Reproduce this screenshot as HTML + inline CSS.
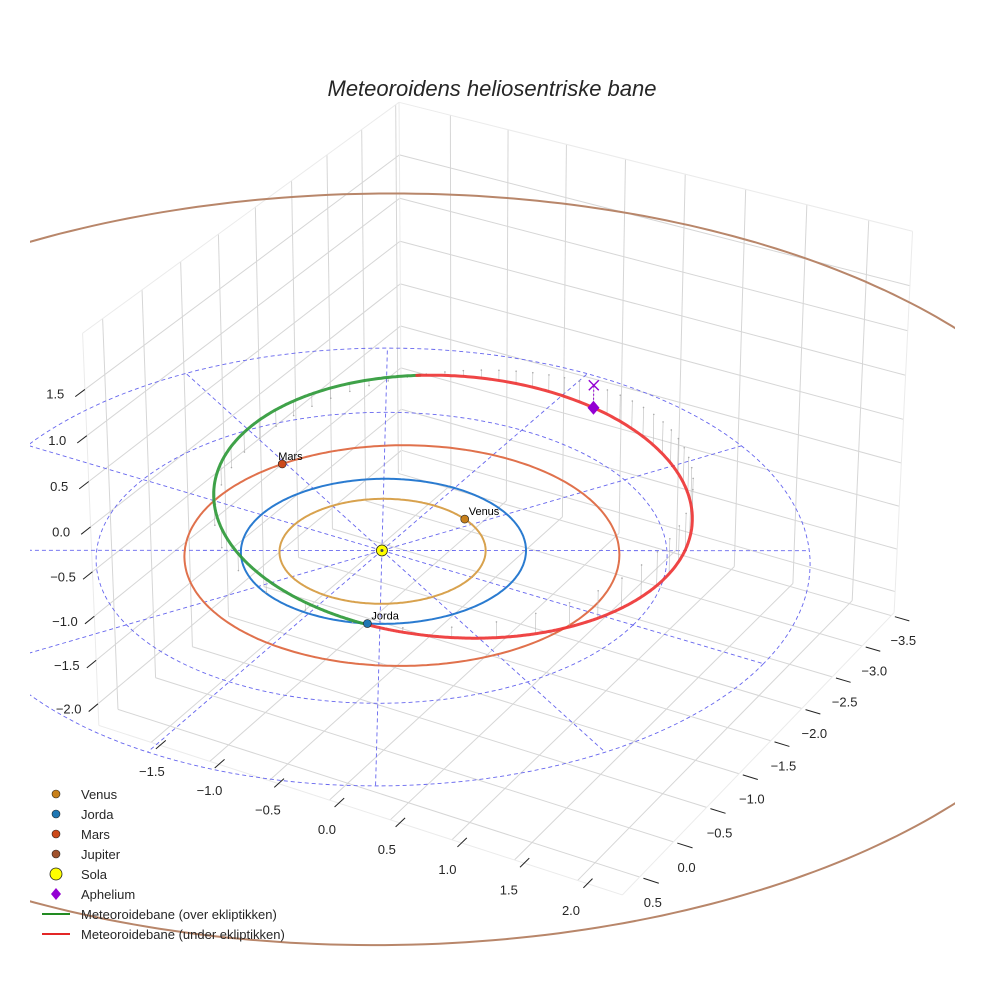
<!DOCTYPE html>
<html><head><meta charset="utf-8"><title>Meteoroidens heliosentriske bane</title>
<style>
html,body{margin:0;padding:0;background:#fff;}
svg{display:block;font-family:"Liberation Sans",sans-serif;}
</style></head>
<body>
<svg id="chart" width="984" height="984" viewBox="0 0 984 984" xmlns="http://www.w3.org/2000/svg">
<defs><clipPath id="clip"><rect x="30" y="0" width="925" height="984"/></clipPath></defs>
<rect width="984" height="984" fill="#fff"/>
<g id="grid"></g>
<g id="plot" clip-path="url(#clip)"></g>
<g id="over"></g>
<g id="axes"></g>
<text x="492" y="96" text-anchor="middle" font-size="22" font-style="italic" fill="#262626">Meteoroidens heliosentriske bane</text>
<g id="legend"></g>
</svg>
<script>
// ---- data ----
const xTicks = [-1.5,-1.0,-0.5,0.0,0.5,1.0,1.5,2.0];
const yTicks = [-3.5,-3.0,-2.5,-2.0,-1.5,-1.0,-0.5,0.0,0.5];
const zTicks = [-2.0,-1.5,-1.0,-0.5,0.0,0.5,1.0,1.5];
const xRange = [-1.95, 2.35];
const yRange = [-3.55, 0.75];
const zRange = [-2.25, 2.1];
const planetNames = ["Venus","Jorda","Mars","Jupiter"];
const planetA = [0.723, 1.0, 1.524, 5.2];
const planetE = [0.007, 0.017, 0.093, 0.08];
const planetPeriLon = [130, 100, 155, 63];
const planetLon = [-67, 65, 209, 135];
const planetOrbitColors = ["#d8a24e","#2a7bd0","#e0714c","#b8866a"];
const planetMarkerColors = ["#c8801a","#1f77b4","#cc4a1a","#a0522d"];
const refRadii = [2, 3];
const refAngles = [0,30,60,90,120,150,180,210,240,270,300,330];
const meteorA = 1.9205;
const meteorE = 0.4996;
const meteorI = 11;
const meteorNode = 65;
const meteorOmega = 28;
const stemCount = 56;

// ---- projection calibration (box corners in normalized coords -> screen) ----
const calib = [
 [0,0,1,400,103],[0,0,0,400,470],[0,1,0,100,726],[0,1,1,81,333],
 [1,1,0,621,895],[1,0,0,895,613],[1,0,1,912,231]
];
function norm(x,y,z){return [(x-xRange[0])/(xRange[1]-xRange[0]),(y-yRange[0])/(yRange[1]-yRange[0]),(z-zRange[0])/(zRange[1]-zRange[0])];}
(function(){const s=norm(0,0,0);calib.push([s[0],s[1],s[2],384,550]);})();
function solve(){
 const rows=[],rhs=[];
 calib.forEach(c=>{const [X,Y,Z,u,v]=c;
  rows.push([X,Y,Z,1,0,0,0,0,-u*X,-u*Y,-u*Z]);rhs.push(u);
  rows.push([0,0,0,0,X,Y,Z,1,-v*X,-v*Y,-v*Z]);rhs.push(v);});
 const n=11,M=[];
 for(let i=0;i<n;i++){M.push(new Array(n+1).fill(0));
  for(let j=0;j<n;j++){let s=0;for(let k=0;k<rows.length;k++)s+=rows[k][i]*rows[k][j];M[i][j]=s;}
  let s=0;for(let k=0;k<rows.length;k++)s+=rows[k][i]*rhs[k];M[i][n]=s;}
 for(let c=0;c<n;c++){let p=c;for(let r=c+1;r<n;r++)if(Math.abs(M[r][c])>Math.abs(M[p][c]))p=r;
  [M[c],M[p]]=[M[p],M[c]];
  for(let r=0;r<n;r++){if(r===c)continue;const f=M[r][c]/M[c][c];for(let k=c;k<=n;k++)M[r][k]-=f*M[c][k];}}
 return M.map((r,i)=>r[n]/r[i]);
}
const P=solve();
function proj(x,y,z){const [a,b,c]=norm(x,y,z);const d=P[8]*a+P[9]*b+P[10]*c+1;
 return [(P[0]*a+P[1]*b+P[2]*c+P[3])/d,(P[4]*a+P[5]*b+P[6]*c+P[7])/d];}

const NS="http://www.w3.org/2000/svg";
function el(tag,attrs,parent){const e=document.createElementNS(NS,tag);for(const k in attrs)e.setAttribute(k,attrs[k]);parent.appendChild(e);return e;}
function pts(arr){return arr.map(p=>p[0].toFixed(1)+","+p[1].toFixed(1)).join(" ");}
const G=document.getElementById("grid"),PL=document.getElementById("plot"),OV=document.getElementById("over"),AX=document.getElementById("axes"),LG=document.getElementById("legend");
const [x0,x1]=xRange,[y0,y1]=yRange,[z0,z1]=zRange;

function line3(a,b,attrs,parent,name){const p=proj(...a),q=proj(...b);
 const l=el("line",Object.assign({x1:p[0],y1:p[1],x2:q[0],y2:q[1]},attrs),parent);
 
 
 return l;}
const gAttr={stroke:"#d6d6d6","stroke-width":1};
xTicks.forEach(x=>{line3([x,y0,z0],[x,y1,z0],gAttr,G,"floor-gridline-x");line3([x,y0,z0],[x,y0,z1],gAttr,G,"wall-gridline-x");});
yTicks.forEach(y=>{line3([x0,y,z0],[x1,y,z0],gAttr,G,"floor-gridline-y");line3([x0,y,z0],[x0,y,z1],gAttr,G,"wall-gridline-y");});
zTicks.forEach(z=>{line3([x0,y0,z],[x0,y1,z],gAttr,G,"wall-gridline-z");line3([x0,y0,z],[x1,y0,z],gAttr,G,"wall-gridline-z");});
const eAttr={stroke:"#ebebeb","stroke-width":1};
[[[x0,y0,z1],[x0,y1,z1]],[[x0,y0,z1],[x1,y0,z1]],[[x0,y1,z0],[x0,y1,z1]],[[x1,y0,z0],[x1,y0,z1]],[[x0,y1,z0],[x1,y1,z0]],[[x1,y0,z0],[x1,y1,z0]],[[x0,y0,z0],[x0,y0,z1]]].forEach(e=>line3(e[0],e[1],eAttr,G,"pane-edge"));

function orbitPt(a,e,peri,lonDeg){const l=lonDeg*Math.PI/180,w=peri*Math.PI/180;const r=a*(1-e*e)/(1+e*Math.cos(l-w));return [r*Math.cos(l),r*Math.sin(l),0];}

refRadii.forEach(R=>{const arr=[];for(let k=0;k<=360;k+=2){arr.push(proj(R*Math.cos(k*Math.PI/180),R*Math.sin(k*Math.PI/180),0));}
 const p=el("polyline",{points:pts(arr),fill:"none",stroke:"#6666ee","stroke-width":0.9,"stroke-dasharray":"4,3"},PL);
 
 });
const Rmax=Math.max(...refRadii);
refAngles.forEach(a=>{const t=a*Math.PI/180;const p=proj(0,0,0),q=proj(Rmax*Math.cos(t),Rmax*Math.sin(t),0);
 const l=el("line",{x1:p[0],y1:p[1],x2:q[0],y2:q[1],stroke:"#6666ee","stroke-width":0.9,"stroke-dasharray":"4,3"},PL);
 
 });

planetNames.forEach((n,i)=>{const arr=[];for(let k=0;k<=360;k+=1)arr.push(proj(...orbitPt(planetA[i],planetE[i],planetPeriLon[i],k)));
 const p=el("polyline",{points:pts(arr),fill:"none",stroke:planetOrbitColors[i],"stroke-width":2},PL);
 
 });

const inc=meteorI*Math.PI/180,Om=meteorNode*Math.PI/180,om=meteorOmega*Math.PI/180,pp=meteorA*(1-meteorE*meteorE);
function meteorPt(th){const r=pp/(1+meteorE*Math.cos(th-om));const c=r*Math.cos(th),s=r*Math.sin(th);
 return [c*Math.cos(Om)-s*Math.sin(Om)*Math.cos(inc),c*Math.sin(Om)+s*Math.cos(Om)*Math.cos(inc),s*Math.sin(inc)];}
for(let k=0;k<stemCount;k++){const M=2*Math.PI*k/stemCount;let E=M;for(let j=0;j<30;j++)E=M+meteorE*Math.sin(E);
 const nu=2*Math.atan(Math.sqrt((1+meteorE)/(1-meteorE))*Math.tan(E/2));const q=meteorPt(nu+om);
 const a=proj(q[0],q[1],q[2]),b=proj(q[0],q[1],0);
 const l=el("line",{x1:a[0],y1:a[1],x2:b[0],y2:b[1],stroke:"#bbbbbb","stroke-width":0.6},PL);
 
 
 const d=el("circle",{cx:b[0],cy:b[1],r:0.8,fill:"#aaa"},PL);
 
 }
let runs=[],cur=null;
for(let k=0;k<=720;k++){const th=k*Math.PI/360;const q=meteorPt(th);const up=q[2]>=0;const s=proj(...q);
 if(!cur||cur.up!==up){if(cur)cur.pts.push(s);cur={up:up,pts:cur?[cur.pts[cur.pts.length-2]||s,s]:[s]};runs.push(cur);}else cur.pts.push(s);}
runs.forEach(r=>{const p=el("polyline",{points:pts(r.pts),fill:"none",stroke:r.up?"#2f9a3a":"#ee3535","stroke-width":3,"stroke-opacity":0.92,"stroke-linecap":"round"},PL);
 
 });

(function(){const q=meteorPt(om+Math.PI);const a=proj(...q),b=proj(q[0],q[1],0);
 const l=el("line",{x1:a[0],y1:a[1],x2:b[0],y2:b[1],stroke:"#9400d3","stroke-width":1,"stroke-dasharray":"2,2"},OV);
 
 
 const s=5;const x=el("path",{d:`M${b[0]-s},${b[1]-s}L${b[0]+s},${b[1]+s}M${b[0]-s},${b[1]+s}L${b[0]+s},${b[1]-s}`,stroke:"#9400d3","stroke-width":1.4},OV);
 
 
 const dm=el("path",{d:`M${a[0]},${a[1]-7}L${a[0]+6},${a[1]}L${a[0]},${a[1]+7}L${a[0]-6},${a[1]}Z`,fill:"#9400d3"},OV);
 
 })();

planetNames.forEach((n,i)=>{const s=proj(...orbitPt(planetA[i],planetE[i],planetPeriLon[i],planetLon[i]));
 const c=el("circle",{cx:s[0],cy:s[1],r:4,fill:planetMarkerColors[i],stroke:"#222","stroke-width":0.6},OV);
 
 
 const t=el("text",{x:s[0]+(i===2?-4:4),y:s[1]-4,"font-size":11,fill:"#000"},OV);t.textContent=n;
 
 });
(function(){const s=proj(0,0,0);const c=el("circle",{cx:s[0],cy:s[1],r:5.5,fill:"#ffff00",stroke:"#222","stroke-width":0.8},OV);
 
 
 const d=el("circle",{cx:s[0],cy:s[1],r:1.5,fill:"#445"},OV);
 
 })();

function tick(a,b,lab,off,name,sh){const p=proj(...a),q=proj(...b);
 const l=el("line",{x1:p[0]+sh[0],y1:p[1]+sh[1],x2:q[0]+sh[0],y2:q[1]+sh[1],stroke:"#222","stroke-width":1},AX);
 
 
 const t=el("text",{x:q[0]+sh[0]+off[0],y:q[1]+sh[1]+off[1],"font-size":13,fill:"#262626","text-anchor":"middle"},AX);
 t.textContent=lab.toFixed(1).replace("-","\u2212");
 
 }
xTicks.forEach((x,i)=>tick([x,y1+0.03,z0],[x,y1+0.16,z0],x,[-4-1.2*i,27],"x-axis",[17,-4]));
yTicks.forEach(y=>tick([x1+0.03,y,z0],[x1+0.15,y,z0],y,[-6,24],"y-axis",[0,0]));
zTicks.forEach(z=>tick([x0,y1,z],[x0,y1+0.12,z],z,[-20,2],"z-axis",[0,0]));

const legLabels=["Venus","Jorda","Mars","Jupiter","Sola","Aphelium","Meteoroidebane (over ekliptikken)","Meteoroidebane (under ekliptikken)"];
legLabels.forEach((lab,i)=>{const y=794+20*i;
 let m;
 if(i<4)m=el("circle",{cx:56,cy:y,r:4,fill:planetMarkerColors[i],stroke:"#222","stroke-width":0.6},LG);
 else if(i===4)m=el("circle",{cx:56,cy:y,r:6,fill:"#ffff00",stroke:"#222","stroke-width":0.8},LG);
 else if(i===5)m=el("path",{d:`M56,${y-6}L61,${y}L56,${y+6}L51,${y}Z`,fill:"#9400d3"},LG);
 else m=el("line",{x1:42,y1:y,x2:70,y2:y,stroke:i===6?"#228b22":"#e32626","stroke-width":2},LG);
 
 
 const t=el("text",{x:81,y:y+5,"font-size":13,fill:"#262626"},LG);t.textContent=lab;
 
 });
</script>
</body></html>
